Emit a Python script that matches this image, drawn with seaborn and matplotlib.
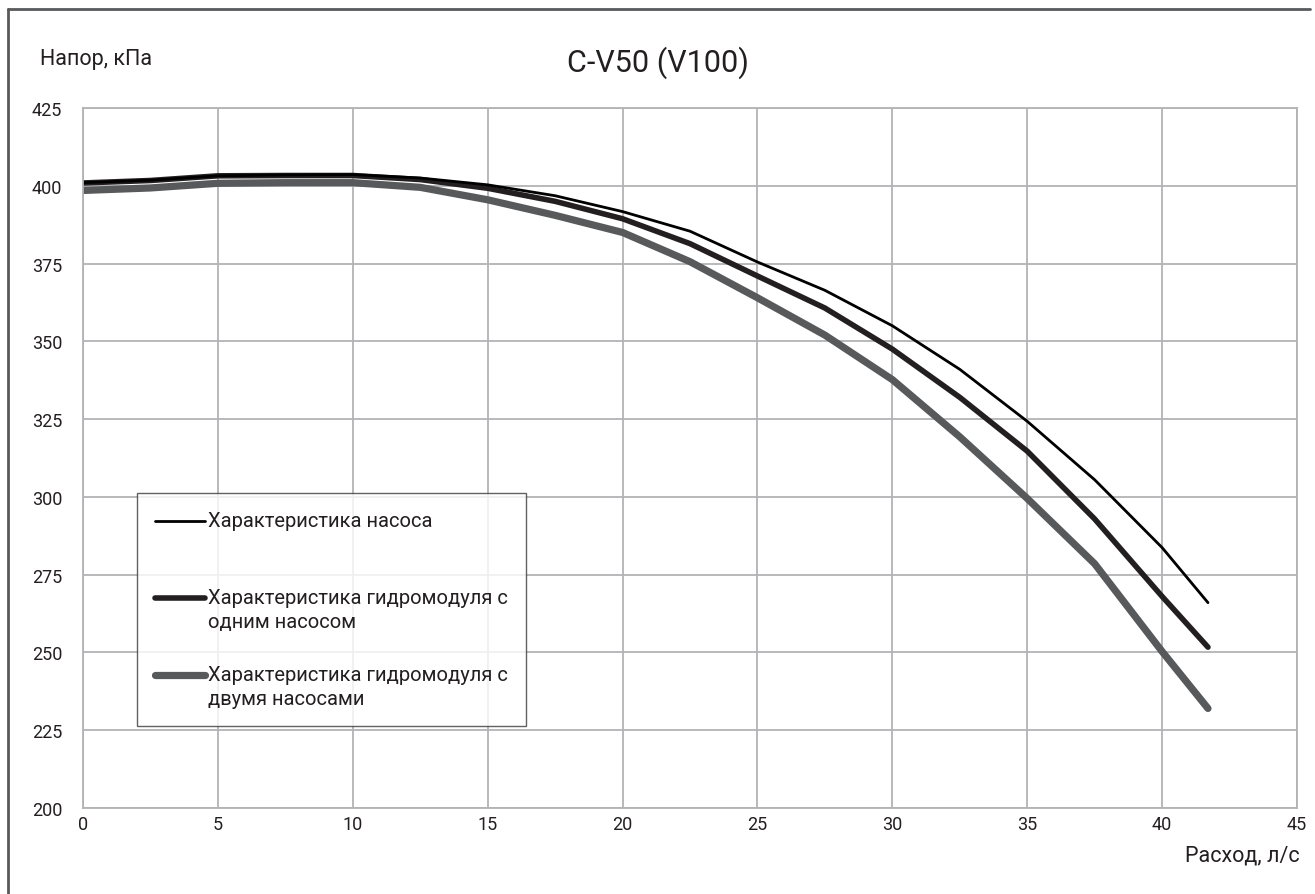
import pandas as pd
import seaborn as sns
import matplotlib.pyplot as plt
from matplotlib.lines import Line2D

# Flow, l/s
flow = [0, 2.5, 5, 7.5, 10, 12.5, 15, 17.5, 20, 22.5, 25, 27.5, 30, 32.5, 35, 37.5, 40, 41.7]

# Head, kPa
pump = [401.0, 401.8, 403.2, 403.5, 403.6, 402.5, 400.3, 396.8, 391.7, 385.4, 375.5,
        366.4, 355.0, 341.0, 324.3, 305.5, 283.7, 266.0]
module_one = [400.9, 401.7, 403.2, 403.3, 403.3, 402.0, 399.2, 395.0, 389.4, 381.4, 371.0,
              360.7, 347.5, 332.0, 314.7, 292.9, 268.0, 251.7]
module_two = [398.5, 399.3, 400.8, 401.0, 401.0, 399.5, 395.5, 390.5, 385.0, 375.6, 364.0,
              352.0, 337.7, 319.3, 299.5, 278.5, 250.3, 232.0]

labels = ['Характеристика насоса',
          'Характеристика гидромодуля с\nодним насосом',
          'Характеристика гидромодуля с\nдвумя насосами']
x_ticks = list(range(0, 50, 5))
y_ticks = list(range(200, 450, 25))

sns.set_style('white')
plt.rcParams['font.family'] = ['Roboto', 'DejaVu Sans']

fig = plt.figure(figsize=(13.15, 8.95), dpi=100)
ax = fig.add_axes([83 / 1315, 86 / 895, 1214 / 1315, 700 / 895])

# thickest line at the back
sns.lineplot(x=flow, y=module_two, ax=ax, color='#58595b', linewidth=5.2,
             solid_capstyle='round', label=labels[2])
sns.lineplot(x=flow, y=module_one, ax=ax, color='#231f20', linewidth=4.0,
             solid_capstyle='round', label=labels[1])
sns.lineplot(x=flow, y=pump, ax=ax, color='#000000', linewidth=2.0,
             solid_capstyle='round', label=labels[0])

ax.set_xlim(0, 45)
ax.set_ylim(200, 425)
ax.set_xticks(x_ticks)
ax.set_yticks(y_ticks)
ax.grid(True, color='#b3b3b5', linewidth=1.3)
for s in ax.spines.values():
    s.set_color('#b3b3b5')
    s.set_linewidth(1.3)
ax.tick_params(axis='both', length=0, labelsize=13, colors='#231f20')
ax.tick_params(axis='x', pad=5)
ax.tick_params(axis='y', pad=15)

# legend: pump, one pump, two pumps; every label takes two lines so the rows line up
handles, labs = ax.get_legend_handles_labels()
order = [labs.index(l) for l in labels]
leg_labels = [l if '\n' in l else l + '\n ' for l in labels]
fs = 14.5
leg = ax.legend([handles[i] for i in order], leg_labels,
                loc='upper left', bbox_to_anchor=(54 / 1214, 315 / 700),
                frameon=True, fancybox=False, edgecolor='#3a3a3c',
                handlelength=2.5, handletextpad=0.15, labelspacing=1.7,
                borderpad=0.9, borderaxespad=0,
                prop={'family': ['Roboto', 'DejaVu Sans'], 'size': fs})
leg.get_frame().set_linewidth(1.0)
for t in leg.get_texts():
    t.set_color('#231f20')
    t.set_linespacing(1.32)
# put the handle on the first text line
shift = 8.8
for h in leg.legend_handles:
    h.set_ydata([y + shift for y in h.get_ydata()])

fig.text(40 / 1315, 1 - 59 / 895, 'Напор, кПа', fontsize=15.5, color='#231f20', va='center')
fig.text(0.5, 1 - 63 / 895, 'C-V50 (V100)', fontsize=22, color='#231f20',
         ha='center', va='center')
fig.text(1300 / 1315, 1 - 856 / 895, 'Расход, л/с', fontsize=15.5, color='#231f20',
         ha='right', va='center')

# page frame (left and top edges)
fig.add_artist(Line2D([8 / 1315, 8 / 1315], [0, 1 - 10 / 895], transform=fig.transFigure,
                      color='#58595b', linewidth=2))
fig.add_artist(Line2D([8 / 1315, 1310 / 1315], [1 - 10 / 895, 1 - 10 / 895],
                      transform=fig.transFigure, color='#58595b', linewidth=2))

fig.savefig('out.png', dpi=100)
